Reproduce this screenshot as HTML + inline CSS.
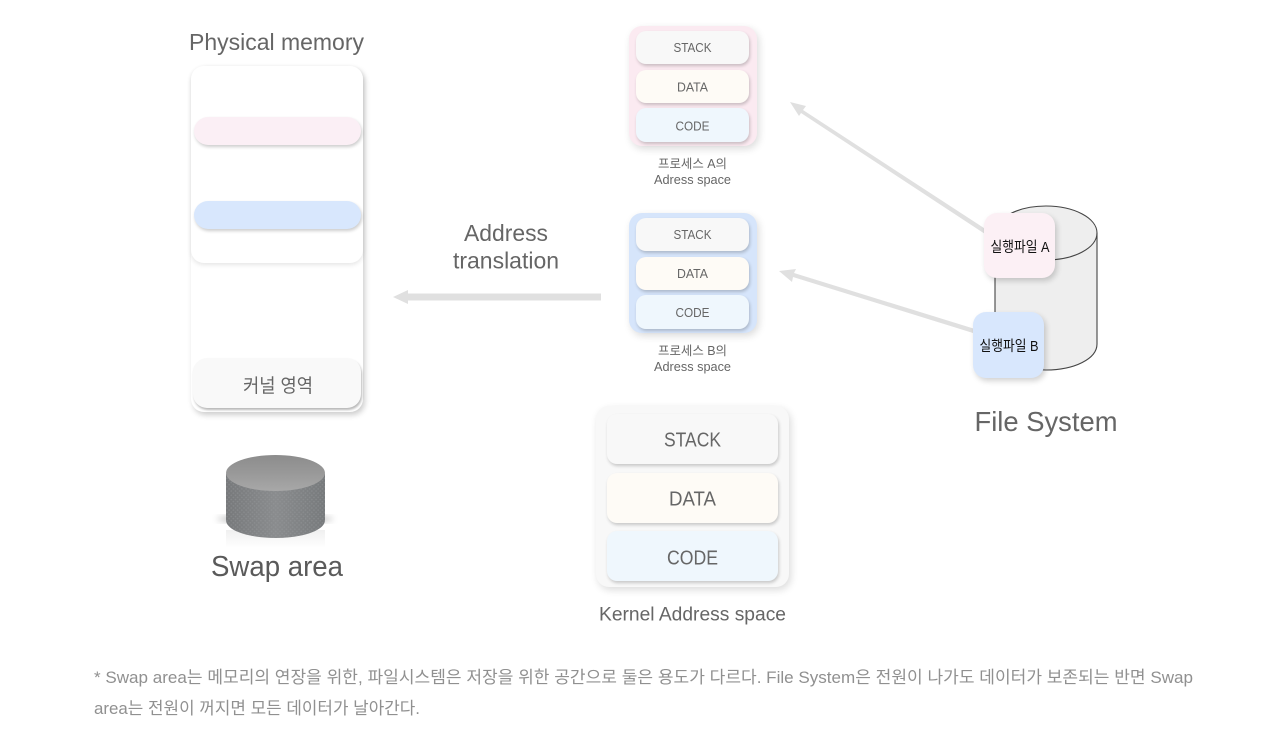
<!DOCTYPE html>
<html lang="ko">
<head>
<meta charset="utf-8">
<title>Memory diagram</title>
<style>
html,body{margin:0;padding:0;background:#fff;}
#p{position:relative;width:1280px;height:737px;overflow:hidden;background:#fff;}
.b{position:absolute;box-sizing:border-box;}
svg{position:absolute;left:0;top:0;}
text{font-family:"Liberation Sans","Noto Sans CJK KR",sans-serif;fill:#666;text-anchor:middle;}
.s{box-shadow:1px 2px 3px rgba(0,0,0,.2);border-radius:10px;}
.o{box-shadow:2px 3px 8px rgba(0,0,0,.14);border-radius:13px;}
</style>
</head>
<body>
<div id="p">
<svg width="1280" height="737" viewBox="0 0 1280 737">
  <defs>
    <linearGradient id="sw" x1="0" x2="1" y1="0" y2="0">
      <stop offset="0" stop-color="#77797b"/><stop offset=".5" stop-color="#8a8c8e"/><stop offset="1" stop-color="#777a7c"/>
    </linearGradient>
    <linearGradient id="st" x1="0" x2="0" y1="0" y2="1">
      <stop offset="0" stop-color="#8c8c8c"/><stop offset=".55" stop-color="#9a9a9a"/><stop offset="1" stop-color="#a8a8a8"/>
    </linearGradient>
    <pattern id="dots" width="3" height="3" patternUnits="userSpaceOnUse" patternTransform="rotate(45)">
      <rect width="1.400" height="1.400" fill="#9a9ea0" opacity=".4"/>
    </pattern>
    <linearGradient id="shd" x1="0" x2="1" y1="0" y2="0">
      <stop offset="0" stop-color="#000" stop-opacity="0"/><stop offset=".15" stop-color="#000" stop-opacity=".22"/><stop offset=".85" stop-color="#000" stop-opacity=".22"/><stop offset="1" stop-color="#000" stop-opacity="0"/>
    </linearGradient>
    <linearGradient id="ref" x1="0" x2="0" y1="0" y2="1">
      <stop offset="0" stop-color="#000" stop-opacity=".06"/><stop offset="1" stop-color="#000" stop-opacity="0"/>
    </linearGradient>
    <filter id="bl"><feGaussianBlur stdDeviation="2"/></filter>
  </defs>
  <!-- swap cylinder -->
  <rect x="214" y="515" width="122" height="8" fill="url(#shd)" filter="url(#bl)"/>
  <rect x="226" y="530" width="99" height="18" fill="url(#ref)"/>
  <path d="M226 474 V520 C226 531 250 538 275.500 538 C301 538 325 531 325 520 V474 Z" fill="url(#sw)"/>
  <path d="M226 474 V520 C226 531 250 538 275.500 538 C301 538 325 531 325 520 V474 Z" fill="url(#dots)"/>
  <ellipse cx="275.500" cy="473" rx="49.500" ry="18" fill="url(#st)"/>
  <!-- file system cylinder -->
  <path d="M995 233 V344 C995 359 1018 370 1046 370 C1074 370 1097 359 1097 344 V233 C1097 218 1074 206 1046 206 C1018 206 995 218 995 233 Z" fill="#eeeeee" stroke="#444" stroke-width="1.100"/>
  <path d="M995 233 C995 248 1018 260 1046 260 C1074 260 1097 248 1097 233" fill="none" stroke="#444" stroke-width="1.100"/>
  <!-- arrows -->
  <g fill="#e0e0e0">
    <polygon points="601,293.500 408,293.500 408,290 393,297 408,304 408,300.500 601,300.500"/>
    <path d="M987 230 L803 110 L806 106 L790 102 L799 116 L801 113 L985 234 Z"/>
    <path d="M975 329 L794 273 L796 269 L779 271 L792 282 L793 277 L973 333 Z"/>
  </g>
</svg>

<!-- physical memory -->
<div class="b" style="left:191px;top:66px;width:172px;height:346px;border-radius:13px;background:#fff;box-shadow:2px 3px 6px rgba(0,0,0,.2);"></div>
<div class="b" style="left:191px;top:66px;width:172px;height:197px;border-radius:13px;background:#fff;box-shadow:0 2px 5px rgba(0,0,0,.1);"></div>
<div class="b s" style="left:194px;top:117px;width:167px;height:28px;border-radius:14px;background:#fbeff5;"></div>
<div class="b s" style="left:194px;top:201px;width:167px;height:28px;border-radius:14px;background:#d8e7fd;"></div>
<div class="b s" style="left:193px;top:358px;width:168px;height:50px;border-radius:14px;background:#f9f9f9;box-shadow:1px 2px 2px rgba(0,0,0,.28);"></div>

<!-- process A -->
<div class="b o" style="left:629px;top:26px;width:128px;height:120px;background:#fbeaf1;"></div>
<div class="b s" style="left:636px;top:31px;width:113px;height:33px;background:#f8f8f8;"></div>
<div class="b s" style="left:636px;top:70px;width:113px;height:33px;background:#fefbf6;"></div>
<div class="b s" style="left:636px;top:108px;width:113px;height:34px;background:#eff7fd;"></div>

<!-- process B -->
<div class="b o" style="left:629px;top:213px;width:128px;height:120px;background:#d6e5fb;"></div>
<div class="b s" style="left:636px;top:218px;width:113px;height:33px;background:#f8f8f8;"></div>
<div class="b s" style="left:636px;top:257px;width:113px;height:33px;background:#fefbf6;"></div>
<div class="b s" style="left:636px;top:295px;width:113px;height:34px;background:#eff7fd;"></div>

<!-- kernel -->
<div class="b o" style="left:596px;top:406px;width:193px;height:181px;background:#f8f8f8;"></div>
<div class="b s" style="left:607px;top:414px;width:171px;height:50px;background:#f8f8f8;"></div>
<div class="b s" style="left:607px;top:473px;width:171px;height:50px;background:#fefbf6;"></div>
<div class="b s" style="left:607px;top:531px;width:171px;height:50px;background:#eff7fd;"></div>

<!-- file cards -->
<div class="b" style="left:984px;top:213px;width:71px;height:65px;border-radius:13px;background:#fcf0f5;box-shadow:2px 3px 6px rgba(0,0,0,.18);"></div>
<div class="b" style="left:973px;top:312px;width:71px;height:66px;border-radius:13px;background:#d8e7fd;box-shadow:2px 3px 6px rgba(0,0,0,.18);"></div>

<svg width="1280" height="737" viewBox="0 0 1280 737">
  <text x="276.500" y="50" font-size="23" textLength="175" lengthAdjust="spacingAndGlyphs">Physical memory</text>
  <text x="278" y="392" font-size="19" textLength="70" lengthAdjust="spacingAndGlyphs">커널 영역</text>
  <text x="277" y="576" font-size="29" style="fill:#5a5a5a" textLength="132" lengthAdjust="spacingAndGlyphs">Swap area</text>

  <text x="692.500" y="52" font-size="13" textLength="38" lengthAdjust="spacingAndGlyphs">STACK</text>
  <text x="692.500" y="91.500" font-size="13" textLength="31" lengthAdjust="spacingAndGlyphs">DATA</text>
  <text x="692.500" y="130.500" font-size="13" textLength="34" lengthAdjust="spacingAndGlyphs">CODE</text>
  <text x="692.500" y="168" font-size="12.500" textLength="69" lengthAdjust="spacingAndGlyphs">프로세스 A의</text>
  <text x="692.500" y="184" font-size="12.500" textLength="77" lengthAdjust="spacingAndGlyphs">Adress space</text>

  <text x="692.500" y="239" font-size="13" textLength="38" lengthAdjust="spacingAndGlyphs">STACK</text>
  <text x="692.500" y="278" font-size="13" textLength="31" lengthAdjust="spacingAndGlyphs">DATA</text>
  <text x="692.500" y="317" font-size="13" textLength="34" lengthAdjust="spacingAndGlyphs">CODE</text>
  <text x="692.500" y="355" font-size="12.500" textLength="69" lengthAdjust="spacingAndGlyphs">프로세스 B의</text>
  <text x="692.500" y="371" font-size="12.500" textLength="77" lengthAdjust="spacingAndGlyphs">Adress space</text>

  <text x="506" y="241" font-size="23" textLength="84" lengthAdjust="spacingAndGlyphs">Address</text>
  <text x="506" y="268.500" font-size="23" textLength="106" lengthAdjust="spacingAndGlyphs">translation</text>

  <text x="692.500" y="446.500" font-size="20" textLength="57" lengthAdjust="spacingAndGlyphs">STACK</text>
  <text x="692.500" y="505.500" font-size="20" textLength="47" lengthAdjust="spacingAndGlyphs">DATA</text>
  <text x="692.500" y="564.500" font-size="20" textLength="51" lengthAdjust="spacingAndGlyphs">CODE</text>
  <text x="692.500" y="620.500" font-size="19" textLength="187" lengthAdjust="spacingAndGlyphs">Kernel Address space</text>

  <text x="1020" y="252" font-size="14.500" style="fill:#111" textLength="59" lengthAdjust="spacingAndGlyphs">실행파일 A</text>
  <text x="1009" y="351" font-size="14.500" style="fill:#111" textLength="59" lengthAdjust="spacingAndGlyphs">실행파일 B</text>
  <text x="1046" y="431" font-size="28" textLength="143" lengthAdjust="spacingAndGlyphs">File System</text>

  <text x="94" y="683" font-size="17" style="fill:#909090;text-anchor:start" textLength="1099" lengthAdjust="spacingAndGlyphs">* Swap area는 메모리의 연장을 위한, 파일시스템은 저장을 위한 공간으로 둘은 용도가 다르다. File System은 전원이 나가도 데이터가 보존되는 반면 Swap</text>
  <text x="94" y="714" font-size="17" style="fill:#909090;text-anchor:start" textLength="326" lengthAdjust="spacingAndGlyphs">area는 전원이 꺼지면 모든 데이터가 날아간다.</text>
</svg>
</div>
</body>
</html>
